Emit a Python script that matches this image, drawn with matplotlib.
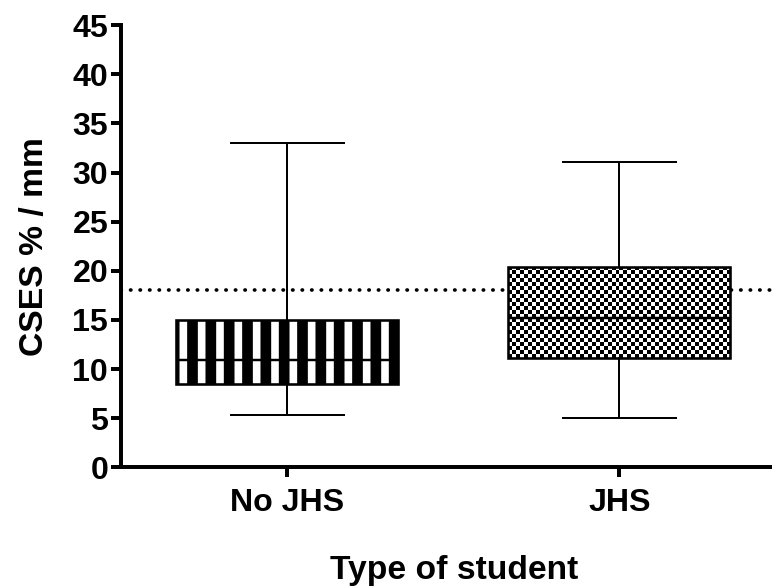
import numpy as np
import matplotlib.pyplot as plt
from matplotlib.colors import ListedColormap

plt.rcParams['font.family'] = ['Liberation Sans', 'DejaVu Sans']
plt.rcParams['font.weight'] = 'bold'
plt.rcParams['hatch.linewidth'] = 7
plt.rcParams['hatch.color'] = 'black'

groups = ["No JHS", "JHS"]
whislo = [5.3, 5.0]
q1 = [8.5, 11.1]
med = [10.9, 15.2]
q3 = [15.0, 20.4]
whishi = [33.0, 31.1]
ref_line = 18
yticks = [0, 5, 10, 15, 20, 25, 30, 35, 40, 45]

dpi = 110
fig = plt.figure(figsize=(772 / dpi, 587 / dpi), dpi=dpi)
ax = fig.add_axes([0.157, 0.204, 0.843, 0.753])

stats = []
for i in range(len(groups)):
    stats.append(dict(label=groups[i], whislo=whislo[i], q1=q1[i], med=med[i],
                      q3=q3[i], whishi=whishi[i], fliers=[]))

pos = [1, 2]
w = 0.67
xlim = (0.5, 2.46)
res = ax.bxp(stats, positions=pos, widths=w, capwidths=0.34, patch_artist=True,
             showfliers=False, zorder=3,
             boxprops=dict(linewidth=1.7, edgecolor='black'),
             medianprops=dict(color='black', linewidth=1.6),
             whiskerprops=dict(color='black', linewidth=1.3),
             capprops=dict(color='black', linewidth=1.3))

box1, box2 = res['boxes']
box1.set_facecolor('white')
box1.set_hatch('|')
box2.set_facecolor('none')

# reference dotted line
ax.axhline(ref_line, color='black', linestyle=(0, (0.1, 2.5)), linewidth=2.4,
           dash_capstyle='round', zorder=1)

ax.set_xlim(*xlim)
ax.set_ylim(0, 45)

# checkerboard fill for second box
fig.canvas.draw()
x0, y0 = ax.transData.transform((pos[1] - w / 2, q1[1]))
x1, y1 = ax.transData.transform((pos[1] + w / 2, q3[1]))
nc = int(round((x1 - x0) / 4))
nr = int(round((y1 - y0) / 4))
board = (np.add.outer(np.arange(nr), np.arange(nc)) % 2)
ax.imshow(board, cmap=ListedColormap(['black', 'white']), interpolation='nearest',
          extent=(pos[1] - w / 2, pos[1] + w / 2, q1[1], q3[1]), aspect='auto',
          zorder=2.5, clip_path=box2, clip_on=True)

ax.set_xlim(*xlim)
ax.set_ylim(0, 45)
ax.set_yticks(yticks)
ax.set_xticks(pos)
ax.set_xticklabels(groups)

for s in ['top', 'right']:
    ax.spines[s].set_visible(False)
for s in ['left', 'bottom']:
    ax.spines[s].set_linewidth(2.6)

ax.tick_params(axis='both', direction='out', length=6.5, width=2.6, labelsize=21, pad=2)
ax.tick_params(axis='x', pad=7)
ax.set_ylabel("CSES % / mm", fontsize=22, fontweight='bold', labelpad=15)
ax.set_xlabel("Type of student", fontsize=22, fontweight='bold', labelpad=24)
ax.xaxis.label.set_x(0.512)

fig.savefig("out.png", dpi=dpi)
